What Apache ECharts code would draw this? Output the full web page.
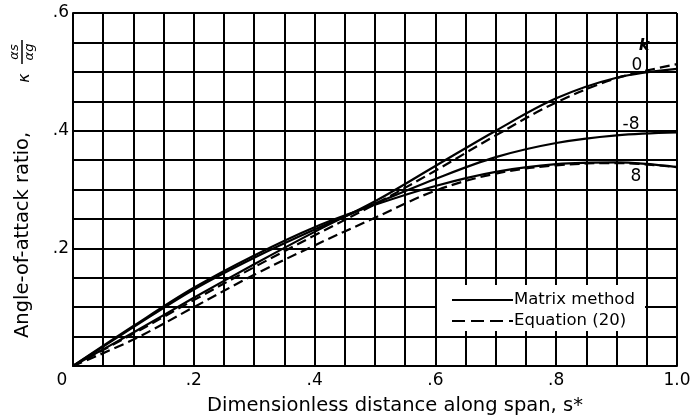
<!DOCTYPE html>
<html>
<head>
<meta charset="utf-8">
<script src="https://cdn.jsdelivr.net/npm/echarts@6/dist/echarts.min.js"></script>
<style>
  html, body { margin: 0; padding: 0; background: #fff; }
  #chart { width: 695px; height: 417px; }
</style>
</head>
<body>
<div id="chart"></div>
<script>
// Dimensionless distance along span, s*
const spanPos = [0, 0.1, 0.2, 0.3, 0.4, 0.5, 0.6, 0.7, 0.8, 0.9, 1.0];

// Angle-of-attack ratio, matrix method
const matrixK0     = [0, 0.057, 0.116, 0.173, 0.228, 0.280, 0.340, 0.400, 0.455, 0.490, 0.505];
const matrixKneg8  = [0, 0.066, 0.130, 0.184, 0.232, 0.276, 0.318, 0.355, 0.379, 0.392, 0.397];
const matrixKpos8  = [0, 0.068, 0.133, 0.188, 0.236, 0.274, 0.306, 0.330, 0.343, 0.346, 0.338];

// Angle-of-attack ratio, equation (20)
const equationK0    = [0, 0.055, 0.112, 0.168, 0.222, 0.275, 0.332, 0.392, 0.448, 0.489, 0.513];
const equationKpos8 = [0, 0.045, 0.100, 0.155, 0.205, 0.252, 0.298, 0.327, 0.341, 0.345, 0.338];

// Tick labels shown on the axes
const xTickLabels = { 0: '0', 0.2: '.2', 0.4: '.4', 0.6: '.6', 0.8: '.8', 1: '1.0' };
const yTickLabels = { 0.2: '.2', 0.4: '.4', 0.6: '.6' };

// Legend entries
const legendNames = ['Matrix method', 'Equation (20)'];

// Parameter labels at the right end of the curves
const curveTags = ['k', '0', '-8', '8'];

const FONT = 'DejaVu Sans';
const INK = '#000';
const DASH = [10, 5];

function pairs(xs, ys) { return xs.map((x, i) => [x, ys[i]]); }
function lookup(table, v) {
  for (const k in table) { if (Math.abs(Number(k) - v) < 1e-6) return table[k]; }
  return '';
}

function curve(name, values, dashed) {
  return {
    type: 'line',
    name: name,
    data: pairs(spanPos, values),
    smooth: 0.35,
    symbol: 'none',
    lineStyle: { color: INK, width: 2.2, type: dashed ? DASH : 'solid' },
    z: 3,
    silent: true
  };
}

const chart = echarts.init(document.getElementById('chart'), null, { renderer: 'canvas' });

// Placement of the curve parameter labels (pixels)
const tagPos = [[644, 46], [637, 66], [631, 125], [636, 177]];

// Legend key, drawn as sample strokes followed by their text
const legendRows = legendNames.map((name, i) => {
  const y = 300 + i * 21;
  return [
    { type: 'line', z: 5, silent: true,
      shape: { x1: 452, y1: y, x2: 513, y2: y },
      style: { stroke: INK, lineWidth: 2, lineDash: i === 1 ? [13, 6] : null } },
    { type: 'text', z: 5, silent: true, x: 514, y: y,
      style: { text: name, fill: INK, font: '16.5px "DejaVu Sans"',
               align: 'left', verticalAlign: 'middle' } }
  ];
}).flat();

chart.setOption({
  animation: false,
  backgroundColor: '#fff',
  grid: { left: 73, top: 13, right: 18, bottom: 51, containLabel: false, outerBoundsMode: 'none' },
  xAxis: {
    type: 'value', min: 0, max: 1, interval: 0.05,
    axisLine: { show: true, lineStyle: { color: INK, width: 2 } },
    axisTick: { show: false },
    splitLine: { show: true, lineStyle: { color: INK, width: 2 } },
    axisLabel: {
      margin: 6, color: INK, fontFamily: FONT, fontSize: 17,
      showMinLabel: true, showMaxLabel: true,
      formatter: v => {
        const t = lookup(xTickLabels, v);
        return v === 0 ? '{z|' + t + '}' : t;
      },
      rich: { z: { fontFamily: FONT, fontSize: 17, color: INK, padding: [0, 22, 0, 0] } }
    },
    name: 'Dimensionless distance along span, s*',
    nameLocation: 'middle', nameGap: 30,
    nameTextStyle: { color: INK, fontFamily: FONT, fontSize: 19.5, padding: [0, 0, 0, 40] }
  },
  yAxis: {
    type: 'value', min: 0, max: 0.6, interval: 0.05,
    axisLine: { show: true, lineStyle: { color: INK, width: 2 } },
    axisTick: { show: false },
    splitLine: { show: true, lineStyle: { color: INK, width: 2 } },
    axisLabel: {
      margin: 4, color: INK, fontFamily: FONT, fontSize: 17,
      formatter: v => lookup(yTickLabels, v)
    }
  },
  graphic: [
    // Blank panel behind the legend
    { type: 'rect', z: 1, silent: true,
      shape: { x: 437, y: 285, width: 208, height: 46 },
      style: { fill: '#fff' } },
    // Rotated y-axis title with the alpha fraction
    { type: 'group', x: 23, y: 338, rotation: Math.PI / 2, z: 5, silent: true,
      children: [
        { type: 'text', x: 0, y: 0,
          style: { text: 'Angle-of-attack ratio,', fill: INK, font: '19.5px "DejaVu Sans"',
                   verticalAlign: 'middle', align: 'left' } },
        { type: 'text', x: 260, y: 2,
          style: { text: 'κ', fill: INK, font: 'italic 16px "DejaVu Sans"',
                   verticalAlign: 'middle', align: 'center' } },
        { type: 'text', x: 286, y: -8,
          style: { text: 'αs', fill: INK, font: 'italic 13px "DejaVu Sans"',
                   verticalAlign: 'middle', align: 'center' } },
        { type: 'line', shape: { x1: 274, y1: -1, x2: 298, y2: -1 },
          style: { stroke: INK, lineWidth: 1.5 } },
        { type: 'text', x: 286, y: 7,
          style: { text: 'αg', fill: INK, font: 'italic 13px "DejaVu Sans"',
                   verticalAlign: 'middle', align: 'center' } }
      ] }
  ].concat(legendRows).concat(curveTags.map((t, i) => ({
    type: 'text', z: 5, silent: true, x: tagPos[i][0], y: tagPos[i][1],
    style: { text: t, fill: INK, align: 'center', verticalAlign: 'middle',
             font: (t === 'k' ? 'italic bold 16px' : '17px') + ' "DejaVu Sans"' }
  }))),
  series: [
    curve('Matrix method', matrixK0, false),
    curve('Matrix method', matrixKneg8, false),
    curve('Matrix method', matrixKpos8, false),
    curve('Equation (20)', equationK0, true),
    curve('Equation (20)', equationKpos8, true)
  ]
});
</script>
</body>
</html>
